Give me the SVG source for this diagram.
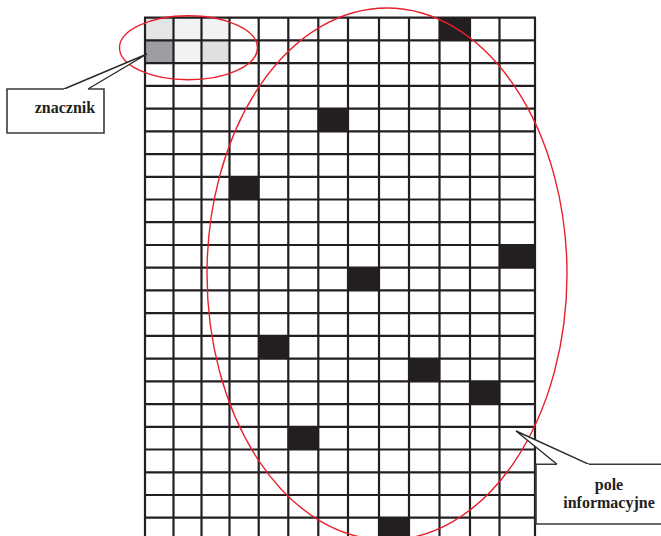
<svg xmlns="http://www.w3.org/2000/svg" width="661" height="536" viewBox="0 0 661 536">
<style>
.gl{stroke:#231f20;stroke-width:2.2;fill:none}
.blk{fill:#231f20}
.ell{fill:none;stroke:#e8202a;stroke-width:1.4}
.box{fill:#fff;stroke:#3a3a3a;stroke-width:1.6}
.ptr{fill:#fff;stroke:#2a2a2a;stroke-width:1.4;stroke-linejoin:miter}
.lbl{font-family:"Liberation Serif","Times New Roman",serif;font-weight:bold;font-size:16px;fill:#231f20;text-anchor:middle}
</style>
<rect width="661" height="536" fill="#fff"/>
<g id="grid">
<g id="cells">
<rect x="145" y="17.7" width="28.5" height="22.7" fill="#e4e5e7"/>
<rect x="173.5" y="17.7" width="28" height="22.7" fill="#f1f2f4"/>
<rect x="201.5" y="17.7" width="28" height="22.7" fill="#f1f2f4"/>
<rect x="145" y="40.4" width="28.5" height="22.8" fill="#9d9ea1"/>
<rect x="173.5" y="40.4" width="28" height="22.8" fill="#f1f2f4"/>
<rect x="201.5" y="40.4" width="28" height="22.8" fill="#dfe0e2"/>
<rect class="blk" x="439.5" y="17.7" width="30.5" height="22.7"/>
<rect class="blk" x="318.3" y="108.6" width="29.7" height="22.8"/>
<rect class="blk" x="229.5" y="176.8" width="29.2" height="22.7"/>
<rect class="blk" x="499.5" y="245" width="35.5" height="22.7"/>
<rect class="blk" x="348" y="267.7" width="31" height="22.7"/>
<rect class="blk" x="258.7" y="336" width="29.6" height="22.7"/>
<rect class="blk" x="409" y="358.7" width="30.5" height="22.7"/>
<rect class="blk" x="470" y="381.4" width="29.5" height="22.7"/>
<rect class="blk" x="288.3" y="426.9" width="30" height="22.7"/>
<rect class="blk" x="379" y="517.7" width="30" height="20"/>
</g>
<path class="gl" d="M145,17.7V536M173.5,17.7V536M201.5,17.7V536M229.5,17.7V536M258.7,17.7V536M288.3,17.7V536M318.3,17.7V536M348,17.7V536M379,17.7V536M409,17.7V536M439.5,17.7V536M470,17.7V536M499.5,17.7V536M535,17.7V536"/>
<path class="gl" d="M144,17.7H536M144,40.4H536M144,63.2H536M144,85.9H536M144,108.6H536M144,131.3H536M144,154.1H536M144,176.8H536M144,199.5H536M144,222.2H536M144,245H536M144,267.7H536M144,290.4H536M144,313.2H536M144,335.9H536M144,358.6H536M144,381.4H536M144,404.1H536M144,426.8H536M144,449.5H536M144,472.3H536M144,495H536M144,517.7H536"/>
</g>
<g id="marker-ellipse">
<ellipse class="ell" cx="188.5" cy="47.8" rx="69" ry="32"/>
</g>
<g id="info-ellipse">
<ellipse class="ell" cx="387" cy="274" rx="180" ry="266"/>
</g>
<g id="connectors">
<polyline class="ptr" points="64,89 147,54 88,89"/>
<polyline class="ptr" points="557,464.3 516,431 589,464.3"/>
</g>
<g id="znacznik">
<path class="box" d="M88,89 L104,89 L104,133 L7,133 L7,89 L64,89"/>
<text class="lbl" x="65" y="113">znacznik</text>
</g>
<g id="pole-informacyjne">
<path class="box" d="M589,464.3 L665,464.3 L665,524 L536,524 L536,464.3 L557,464.3"/>
<text class="lbl" x="609" y="490">pole</text>
<text class="lbl" x="609" y="508">informacyjne</text>
</g>
</svg>
